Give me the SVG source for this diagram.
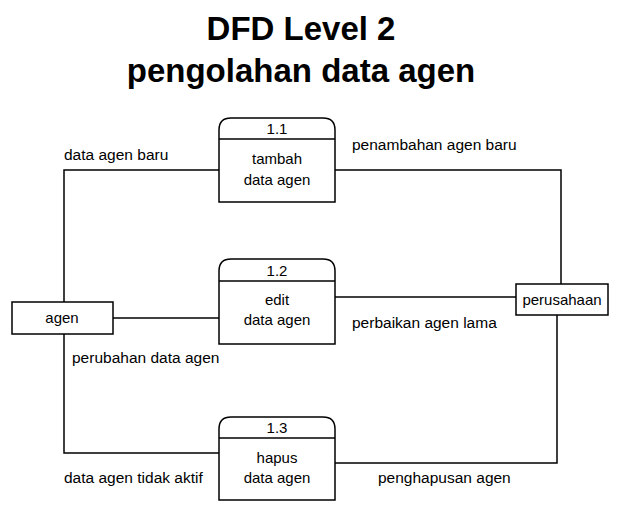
<svg xmlns="http://www.w3.org/2000/svg" width="623" height="515" viewBox="0 0 623 515">
<style>
text{font-family:"Liberation Sans",Arial,sans-serif;fill:#000}
.t{font-size:33px;font-weight:bold;text-anchor:middle}
.l{font-size:15.5px}
.c{font-size:15px;text-anchor:middle}
.s{fill:#fff;stroke:#000;stroke-width:1.5}
.w{fill:none;stroke:#000;stroke-width:1.5}
</style>
<rect width="623" height="515" fill="#fff"/>
<text class="t" x="301" y="40">DFD Level 2</text>
<text class="t" x="301" y="82">pengolahan data agen</text>
<g id="connectors" class="w">
<polyline points="219,170 64,170 64,302"/>
<polyline points="335,170 561,170 561,284"/>
<line x1="113" y1="318" x2="219" y2="318"/>
<line x1="335" y1="297" x2="516" y2="297"/>
<polyline points="64,334 64,453 219,453"/>
<polyline points="335,463 557,463 557,315"/>
</g>
<g id="p11">
<path class="s" d="M219,202 V130 Q219,118 231,118 H323 Q335,118 335,130 V202 Z"/>
<line class="w" x1="219" y1="139" x2="335" y2="139"/>
<text class="c" x="277" y="134">1.1</text>
<text class="c" x="277" y="164">tambah</text>
<text class="c" x="277" y="185">data agen</text>
</g>
<g id="p12">
<path class="s" d="M219,344 V271 Q219,259 231,259 H323 Q335,259 335,271 V344 Z"/>
<line class="w" x1="219" y1="281" x2="335" y2="281"/>
<text class="c" x="277" y="276">1.2</text>
<text class="c" x="277" y="305">edit</text>
<text class="c" x="277" y="325">data agen</text>
</g>
<g id="p13">
<path class="s" d="M219,500 V429 Q219,417 231,417 H323 Q335,417 335,429 V500 Z"/>
<line class="w" x1="219" y1="438" x2="335" y2="438"/>
<text class="c" x="277" y="433">1.3</text>
<text class="c" x="277" y="463">hapus</text>
<text class="c" x="277" y="483">data agen</text>
</g>
<g id="agen">
<rect class="s" x="12" y="302" width="101" height="32"/>
<text class="c" x="62" y="323">agen</text>
</g>
<g id="perusahaan">
<rect class="s" x="516" y="284" width="92" height="31"/>
<text class="c" x="562" y="305">perusahaan</text>
</g>
<g id="labels">
<text class="l" x="64" y="160">data agen baru</text>
<text class="l" x="352" y="150">penambahan agen baru</text>
<text class="l" x="352" y="328">perbaikan agen lama</text>
<text class="l" x="72" y="363">perubahan data agen</text>
<text class="l" x="64" y="483">data agen tidak aktif</text>
<text class="l" x="378" y="483">penghapusan agen</text>
</g>
</svg>
